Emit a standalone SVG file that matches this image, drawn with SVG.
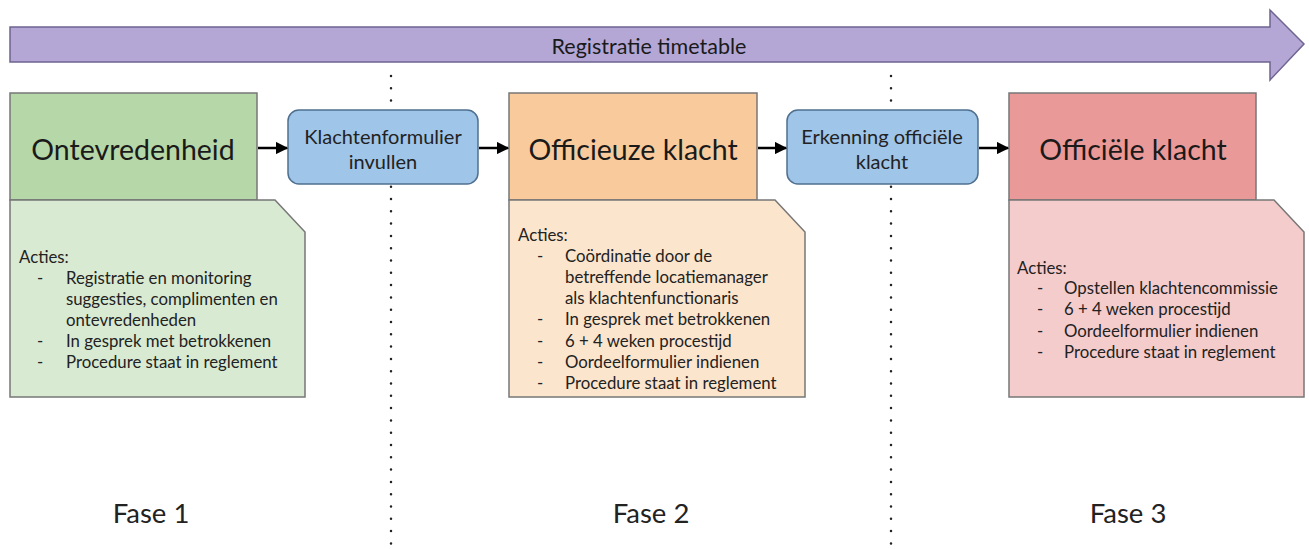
<svg xmlns="http://www.w3.org/2000/svg" width="1309" height="549" viewBox="0 0 1309 549">
<style>
text{font-family:Lato,"Open Sans",sans-serif;fill:#1a1a1a}
.hdr{font-size:28.5px;text-anchor:middle}
.blu{font-size:20px;text-anchor:middle;fill:#222}
.nt{font-size:16.8px;fill:#222}
.fase{font-size:27.5px;text-anchor:middle;fill:#222}
.box{stroke:#777;stroke-width:1.5}
.bb{fill:#9fc5e8;stroke:#4f6f8f;stroke-width:1.5}
.dot{stroke:#222;stroke-width:2.5;stroke-linecap:round;stroke-dasharray:0 12.3;fill:none}
.con{stroke:#000;stroke-width:2.5;fill:none}
</style>
<defs>
<marker id="ah" viewBox="0 0 10 10" refX="9" refY="5" markerWidth="5" markerHeight="5" orient="auto" markerUnits="strokeWidth">
<path d="M0,0 L10,5 L0,10 z" fill="#000"/>
</marker>
</defs>
<g id="timeline">
<path d="M10,27 H1270 V10 L1304,44 L1270,80 V62 H10 Z" fill="#b4a7d6" stroke="#6e6490" stroke-width="1.5"/>
<text x="649" y="54" font-size="21.5" text-anchor="middle">Registratie timetable</text>
</g>
<g id="dividers">
<line class="dot" x1="391" y1="76" x2="391" y2="549"/>
<line class="dot" x1="891" y1="76" x2="891" y2="549"/>
</g>
<g id="fase1">
<rect class="box" x="10" y="93" width="247" height="107" fill="#b6d7a8"/>
<text class="hdr" x="133" y="160">Ontevredenheid</text>
<path class="box" d="M10,200 H275 L305,232 V397 H10 Z" fill="#d9ead3"/>
<text class="nt" x="19" y="263">Acties:</text>
<text class="nt"><tspan x="37" y="284">-</tspan><tspan x="66" y="284">Registratie en monitoring</tspan><tspan x="66" y="305">suggesties, complimenten en</tspan><tspan x="66" y="326">ontevredenheden</tspan><tspan x="37" y="347">-</tspan><tspan x="66" y="347">In gesprek met betrokkenen</tspan><tspan x="37" y="368">-</tspan><tspan x="66" y="368">Procedure staat in reglement</tspan></text>
</g>
<g id="stap1">
<rect class="bb" x="288" y="110" width="190" height="74" rx="11"/>
<text class="blu" x="383" y="144">Klachtenformulier</text>
<text class="blu" x="383" y="169">invullen</text>
</g>
<g id="fase2">
<rect class="box" x="509" y="93" width="248" height="107" fill="#f9cb9c"/>
<text class="hdr" x="633" y="160">Officieuze klacht</text>
<path class="box" d="M509,200 H775 L805,232 V397 H509 Z" fill="#fce5cd"/>
<text class="nt" x="518" y="241">Acties:</text>
<text class="nt"><tspan x="537" y="262">-</tspan><tspan x="565" y="262">Coördinatie door de</tspan><tspan x="565" y="283">betreffende locatiemanager</tspan><tspan x="565" y="304">als klachtenfunctionaris</tspan><tspan x="537" y="325">-</tspan><tspan x="565" y="325">In gesprek met betrokkenen</tspan><tspan x="537" y="347">-</tspan><tspan x="565" y="347">6 + 4 weken procestijd</tspan><tspan x="537" y="368">-</tspan><tspan x="565" y="368">Oordeelformulier indienen</tspan><tspan x="537" y="389">-</tspan><tspan x="565" y="389">Procedure staat in reglement</tspan></text>
</g>
<g id="stap2">
<rect class="bb" x="787" y="110" width="191" height="74" rx="11"/>
<text class="blu" x="882" y="144">Erkenning officiële</text>
<text class="blu" x="882" y="169">klacht</text>
</g>
<g id="fase3">
<rect class="box" x="1009" y="93" width="247" height="107" fill="#ea9999"/>
<text class="hdr" x="1133" y="160">Officiële klacht</text>
<path class="box" d="M1009,200 H1274 L1304,232 V397 H1009 Z" fill="#f4cccc"/>
<text class="nt" x="1017" y="274">Acties:</text>
<text class="nt"><tspan x="1037" y="294">-</tspan><tspan x="1064" y="294">Opstellen klachtencommissie</tspan><tspan x="1037" y="315">-</tspan><tspan x="1064" y="315">6 + 4 weken procestijd</tspan><tspan x="1037" y="337">-</tspan><tspan x="1064" y="337">Oordeelformulier indienen</tspan><tspan x="1037" y="358">-</tspan><tspan x="1064" y="358">Procedure staat in reglement</tspan></text>
</g>
<g id="connectors">
<line class="con" x1="258" y1="148" x2="287" y2="148" marker-end="url(#ah)"/>
<line class="con" x1="479" y1="148" x2="508" y2="148" marker-end="url(#ah)"/>
<line class="con" x1="758" y1="148" x2="786" y2="148" marker-end="url(#ah)"/>
<line class="con" x1="979" y1="148" x2="1008" y2="148" marker-end="url(#ah)"/>
</g>
<g id="labels">
<text class="fase" x="151" y="523">Fase 1</text>
<text class="fase" x="651" y="523">Fase 2</text>
<text class="fase" x="1128" y="523">Fase 3</text>
</g>
</svg>
